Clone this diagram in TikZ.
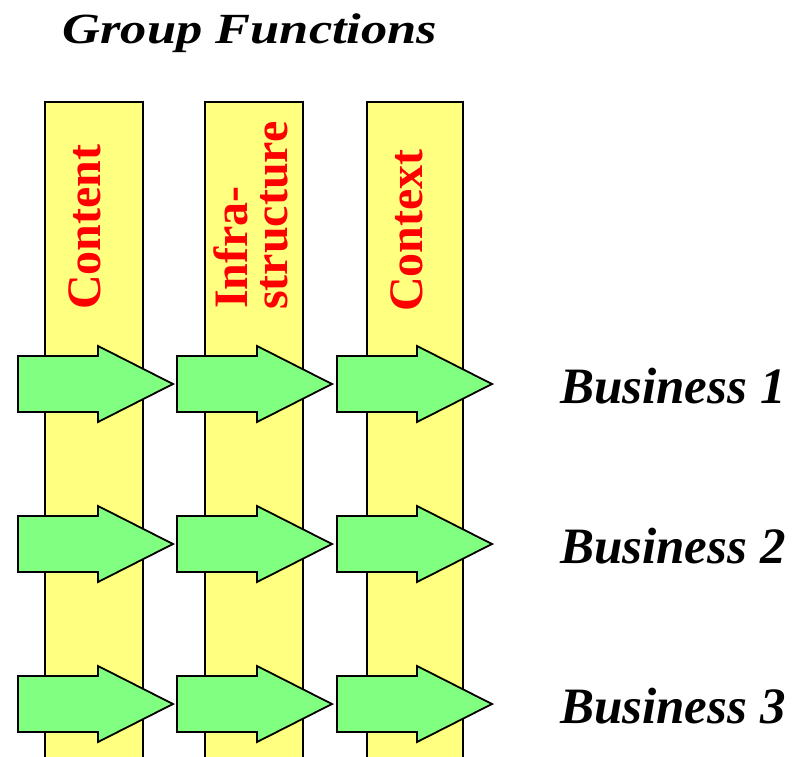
\documentclass[tikz,border=0pt]{standalone}
\usepackage{fontspec}
\setmainfont{Liberation Serif}
\definecolor{colyellow}{HTML}{FFFF80}
\definecolor{arrgreen}{HTML}{80FF80}
\begin{document}
\begin{tikzpicture}[x=1pt,y=-1pt,
  column/.style={draw=black, fill=colyellow, line width=1.8pt},
  flowarrow/.style={draw=black, fill=arrgreen, line width=1.8pt, line join=miter},
  collabel/.style={rotate=90, anchor=base west, inner sep=0pt, text=red, font=\fontsize{48}{48}\selectfont\bfseries},
  bizlabel/.style={anchor=base west, inner sep=0pt, font=\fontsize{51}{51}\selectfont\bfseries\itshape},
  titlelabel/.style={anchor=base, inner sep=0pt, font=\fontsize{43}{43}\selectfont\bfseries\itshape}]
\useasboundingbox[fill=white] (0,0) rectangle (800,757);
% columns
\draw[column] (45,102) rectangle (143,775);
\draw[column] (205,102) rectangle (303,775);
\draw[column] (367,102) rectangle (463,775);
% arrows
\foreach \cy in {384,544,704}{
  \foreach \L in {18,177,337}{
    \draw[flowarrow] (\L,\cy-28) -- ++(80,0) -- ++(0,-10) -- (\L+155,\cy)
      -- (\L+80,\cy+38) -- ++(0,-10) -- (\L,\cy+28) -- cycle;
  }
}
% column labels
\node[collabel] (content) at (100,310) {Content};
\node[collabel] (infra) at (247,309) {Infra-};
\node[collabel] (structure) at (287,310) {structure};
\node[collabel] (context) at (422,312) {Context};
% title
\node[titlelabel] (title) at (250,44) {\scalebox{1.22}[1]{Group Functions}};
% business labels
\node[bizlabel] (b1) at (560,403) {Business 1};
\node[bizlabel] (b2) at (560,563) {Business 2};
\node[bizlabel] (b3) at (560,723) {Business 3};
\end{tikzpicture}
\end{document}
